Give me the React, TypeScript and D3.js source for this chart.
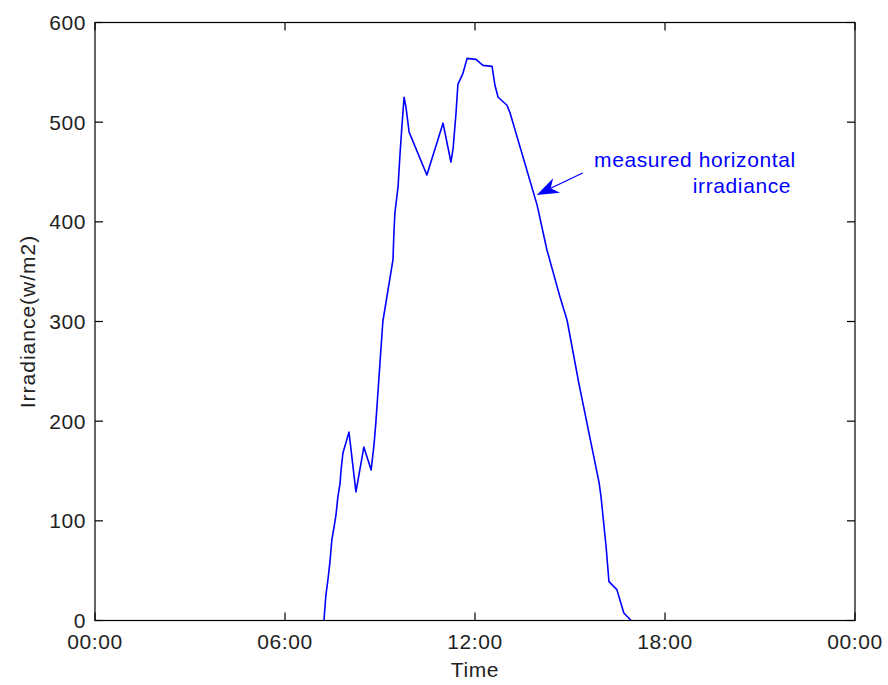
import React from "react";
import * as d3 from "d3";

// hours of day (decimal) and measured irradiance in W/m2
const HOURS = [
  7.23, 7.29, 7.36, 7.42, 7.48, 7.55, 7.61, 7.67, 7.74, 7.77, 7.83, 8.02, 8.24, 8.49, 8.72, 8.81, 8.87,
  9.09, 9.41, 9.44, 9.47, 9.57, 9.63, 9.69, 9.76, 9.82, 9.92, 10.48, 10.99, 11.24, 11.31, 11.4, 11.46,
  11.62, 11.75, 12.03, 12.25, 12.54, 12.63, 12.73, 13.01, 13.11, 13.96, 14.27, 14.68, 14.91, 15.28,
  15.92, 15.98, 16.14, 16.23, 16.48, 16.7, 16.93,
];
const IRRADIANCE = [
  0, 25, 42, 59, 81, 94, 106, 124, 138, 151, 168, 189, 129, 174, 151, 176, 199,
  300, 362, 389, 409, 435, 467, 495, 525, 515, 490, 447, 499, 460, 474, 509, 538,
  549, 564, 563, 557, 556, 537, 525, 517, 509, 417, 372, 325, 301, 238,
  138, 124, 74, 39, 31, 7.5, 0,
];

const X_TICKS = [0, 6, 12, 18, 24];
const X_TICK_LABELS = ["00:00", "06:00", "12:00", "18:00", "00:00"];
const Y_TICKS = [0, 100, 200, 300, 400, 500, 600];

// annotation, in data units: arrow tip, arrow tail, text lines
const ARROW_TIP = { h: 13.95, v: 427 };
const ARROW_TAIL = { h: 15.4, v: 449 };
const NOTE_LINES = [
  { h: 15.76, v: 455, text: "measured horizontal" },
  { h: 18.88, v: 429, text: "irradiance" },
];

const W = 888;
const H = 685;
const M = { left: 95, right: 33, top: 22.5, bottom: 64.5 };
const FONT = "'Liberation Sans', Arial, Helvetica, sans-serif";
const FS = 21;
const LS = 0.6;

export default function App() {
  const x = d3.scaleLinear().domain([0, 24]).range([M.left, W - M.right]);
  const y = d3.scaleLinear().domain([0, 600]).range([H - M.bottom, M.top]);
  const data = HOURS.map((h, i) => ({ h, v: IRRADIANCE[i] }));
  const line = d3
    .line<{ h: number; v: number }>()
    .x((d) => x(d.h))
    .y((d) => y(d.v));

  const x0 = x(0);
  const x1 = x(24);
  const y0 = y(0);
  const y1 = y(600);
  const TICK = 8;

  // arrowhead geometry
  const tx = x(ARROW_TIP.h);
  const ty = y(ARROW_TIP.v);
  const sx = x(ARROW_TAIL.h);
  const sy = y(ARROW_TAIL.v);
  const len = Math.hypot(sx - tx, sy - ty);
  const ux = (sx - tx) / len;
  const uy = (sy - ty) / len;
  const headL = 22;
  const headW = 8;
  const bx = tx + ux * headL;
  const by = ty + uy * headL;
  const nx = tx + ux * headL * 0.7;
  const ny = ty + uy * headL * 0.7;
  const head = `M${tx},${ty} L${bx - uy * headW},${by + ux * headW} L${nx},${ny} L${bx + uy * headW},${by - ux * headW} Z`;

  return (
    <svg
      width={W}
      height={H}
      style={{ position: "absolute", left: 0, top: 0, background: "#fff" }}
      fontFamily={FONT}
      fontSize={FS}
      letterSpacing={LS}
    >
      <rect x={0} y={0} width={W} height={H} fill="#fff" />
      <path d={line(data) ?? ""} fill="none" stroke="#0000ff" strokeWidth={1.6} strokeLinejoin="round" />

      {/* box */}
      <rect x={x0} y={y1} width={x1 - x0} height={y0 - y1} fill="none" stroke="#000" strokeWidth={1.2} />

      {X_TICKS.map((t, i) => (
        <g key={`x${i}`}>
          <line x1={x(t)} x2={x(t)} y1={y0} y2={y0 - TICK} stroke="#000" strokeWidth={1.2} />
          <line x1={x(t)} x2={x(t)} y1={y1} y2={y1 + TICK} stroke="#000" strokeWidth={1.2} />
          <text x={x(t)} y={y0 + 28} textAnchor="middle" fill="#222">
            {X_TICK_LABELS[i]}
          </text>
        </g>
      ))}
      {Y_TICKS.map((t) => (
        <g key={`y${t}`}>
          <line x1={x0} x2={x0 + TICK} y1={y(t)} y2={y(t)} stroke="#000" strokeWidth={1.2} />
          <line x1={x1} x2={x1 - TICK} y1={y(t)} y2={y(t)} stroke="#000" strokeWidth={1.2} />
          <text x={x0 - 9} y={y(t) + 7.5} textAnchor="end" fill="#222">
            {t}
          </text>
        </g>
      ))}

      <text x={(x0 + x1) / 2} y={677} textAnchor="middle" fill="#222">
        Time
      </text>
      <text
        transform={`translate(35,${(y0 + y1) / 2}) rotate(-90)`}
        textAnchor="middle"
        fill="#222"
        letterSpacing={1}
      >
        Irradiance(w/m2)
      </text>

      {/* annotation */}
      <line x1={sx} y1={sy} x2={nx} y2={ny} stroke="#0000ff" strokeWidth={1.3} />
      <path d={head} fill="#0000ff" />
      {NOTE_LINES.map((n) => (
        <text key={n.text} x={x(n.h)} y={y(n.v)} fill="#0000ff">
          {n.text}
        </text>
      ))}
    </svg>
  );
}
